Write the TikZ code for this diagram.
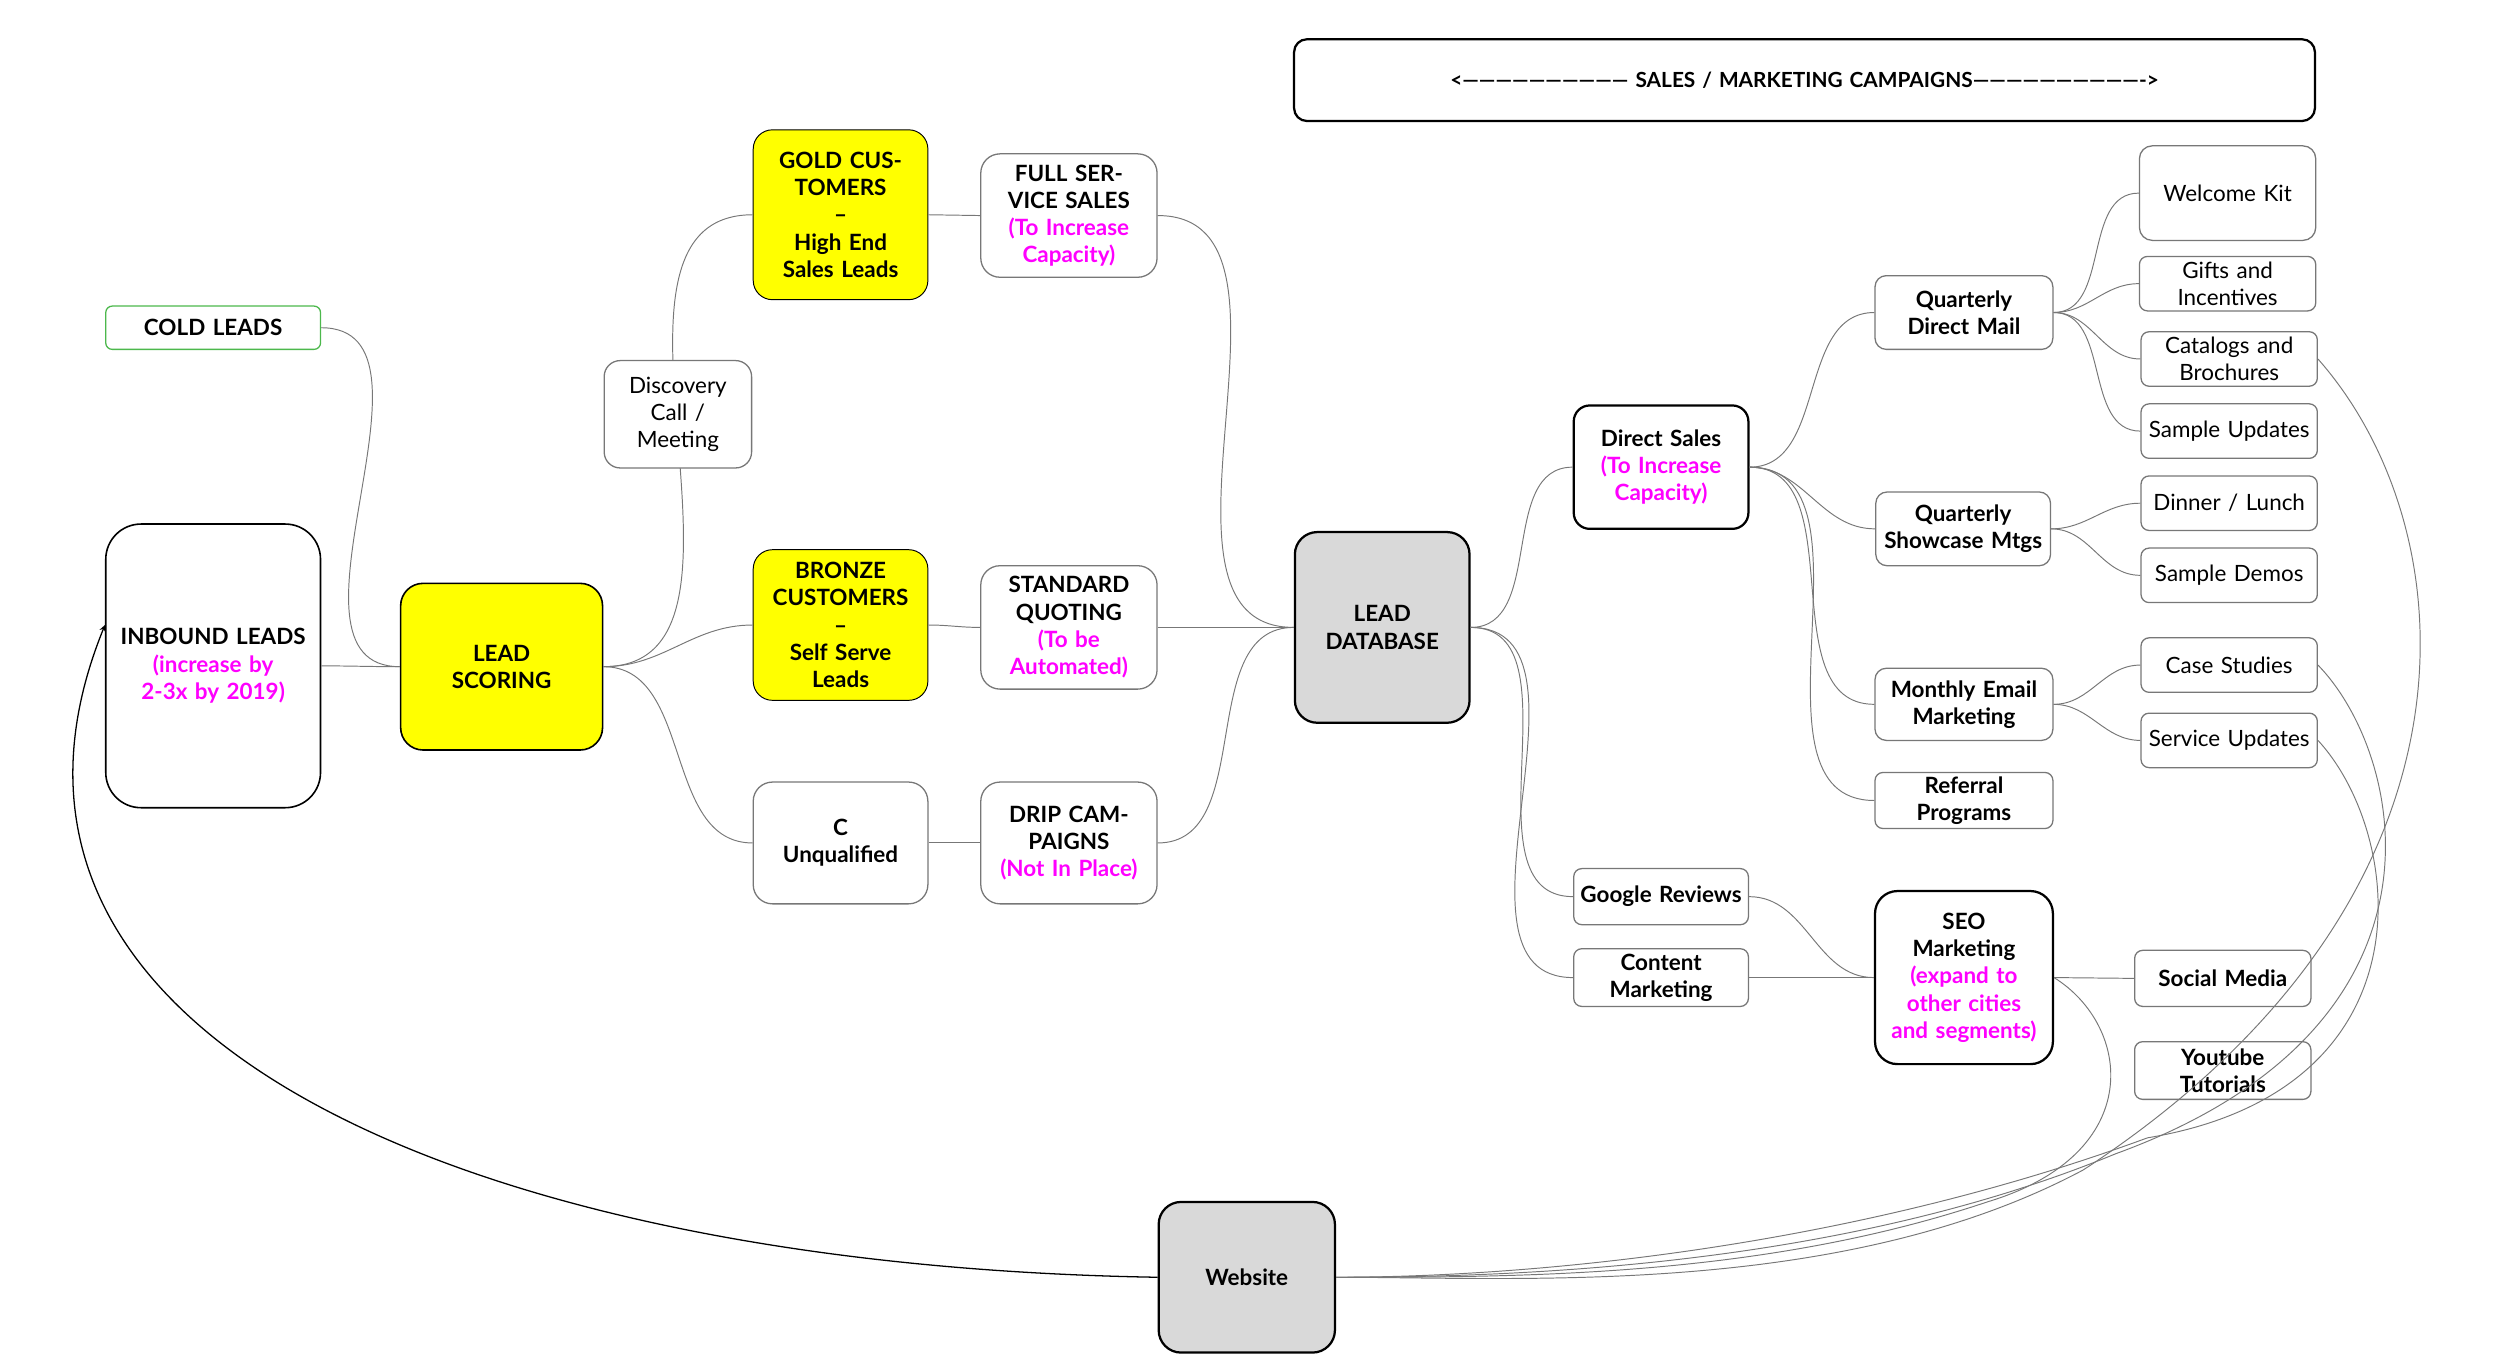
\documentclass[tikz,border=0pt]{standalone}
\usepackage{fontspec}
\setmainfont{Lato}
\definecolor{mag}{HTML}{FF00FF}
\definecolor{yel}{HTML}{FFFF00}
\definecolor{gry}{HTML}{D9D9D9}
\definecolor{edg}{HTML}{777777}
\begin{document}
\begin{tikzpicture}[x=1pt,y=-1pt,
  base/.style 2 args={draw=edg,line width=0.8pt,rounded corners=9pt,fill=white,inner sep=0pt,
    minimum width=#1pt,minimum height=#2pt,text width=#1pt-6pt,align=center,
    font=\fontsize{14}{17}\selectfont},
  b/.style 2 args={base={#1}{#2},font=\fontsize{14}{17}\selectfont\bfseries},
  r/.style 2 args={base={#1}{#2}},
  strong/.style={draw=black,line width=1.4pt,rounded corners=14pt},
  mid/.style={draw=black,line width=1pt,rounded corners=14pt},
  ln/.style={draw=edg,line width=0.6pt},
  m/.style={text=mag}]
\useasboundingbox (0,0) rectangle (1560,852);
% nodes
\node[b={637}{51},strong,rounded corners=8pt,font=\fontsize{13}{16}\selectfont\bfseries] (camp) at (1126,50) {<------------------------------ SALES / MARKETING CAMPAIGNS------------------------------->};
\node[b={134}{27},draw=green!60!black!70,rounded corners=4pt] (cold) at (133,204.5) {COLD LEADS};
\node[b={134}{177},mid,rounded corners=22pt] (inb) at (133,415.5) {INBOUND LEADS\\\textcolor{mag}{(increase by\\2-3x by 2019)}};
\node[b={126}{104},mid,fill=yel] (ls) at (313,416) {LEAD\\SCORING};
\node[b={109}{106},fill=yel,draw=black,line width=0.6pt,rounded corners=12pt] (gold) at (524.5,134) {GOLD CUSTOMERS\\--\\High End Sales Leads};
\node[b={109}{94},fill=yel,draw=black,line width=0.6pt,rounded corners=12pt] (bronze) at (524.5,390) {BRONZE CUSTOMERS\\--\\Self Serve\\Leads};
\node[b={109}{76},rounded corners=12pt] (cq) at (524.5,526) {C\\Unqualified};
\node[b={110}{77},rounded corners=12pt] (full) at (667,134.5) {FULL SERVICE SALES\\\textcolor{mag}{(To Increase Capacity)}};
\node[b={110}{77},rounded corners=12pt] (std) at (667,391.5) {STANDARD QUOTING\\\textcolor{mag}{(To be\\Automated)}};
\node[b={110}{76},rounded corners=12pt] (drip) at (667,526) {DRIP CAMPAIGNS\\\textcolor{mag}{(Not In Place)}};
\node[b={109}{119},strong,fill=gry] (ld) at (862.5,391.5) {LEAD\\DATABASE};
\node[b={110}{94},strong,fill=gry] (web) at (778,797) {Website};
\node[b={109}{77},strong,rounded corners=10pt] (ds) at (1036.5,291.5) {Direct Sales\\\textcolor{mag}{(To Increase\\Capacity)}};
\node[b={109}{35},rounded corners=5pt] (gr) at (1036.5,559.5) {Google Reviews};
\node[b={109}{36},rounded corners=5pt] (cm) at (1036.5,610) {Content\\Marketing};
\node[b={111}{46},rounded corners=7pt] (qdm) at (1225.5,195) {Quarterly\\Direct Mail};
\node[b={109}{46},rounded corners=7pt] (qsm) at (1225,330) {Quarterly\\Showcase Mtgs};
\node[b={111}{45},rounded corners=7pt] (me) at (1225.5,439.5) {Monthly Email\\Marketing};
\node[b={111}{35},rounded corners=5pt] (ref) at (1225.5,499.5) {Referral\\Programs};
\node[b={111}{108},strong,rounded corners=14pt] (seo) at (1225.5,610) {SEO\\Marketing\\\textcolor{mag}{(expand to other cities and segments)}};
\node[r={110}{59},rounded corners=8pt] (wk) at (1390,120.5) {Welcome Kit};
\node[r={110}{34},rounded corners=5pt] (gi) at (1390,177) {Gifts and\\Incentives};
\node[r={110}{34},rounded corners=5pt] (cat) at (1391,224) {Catalogs and\\Brochures};
\node[r={110}{34},rounded corners=5pt] (su) at (1391,269) {Sample Updates};
\node[r={110}{34},rounded corners=5pt] (dl) at (1391,314) {Dinner / Lunch};
\node[r={110}{34},rounded corners=5pt] (sd) at (1391,359) {Sample Demos};
\node[r={110}{34},rounded corners=5pt] (cs) at (1391,415) {Case Studies};
\node[r={110}{34},rounded corners=5pt] (sv) at (1391,462) {Service Updates};
\node[b={110}{35},rounded corners=5pt] (sm) at (1387,610.5) {Social Media};
\node[b={110}{36},rounded corners=5pt] (yt) at (1387,668) {Youtube\\Tutorials};
% edges (behind)
\begin{scope}[on background layer/.style={}]
\end{scope}
\begin{pgfinterruptboundingbox}\end{pgfinterruptboundingbox}
\path[ln] (cold.east) edge[out=0,in=180] (ls.west)
  (inb.east) edge[out=0,in=180] (ls.west)
  (ls.east) edge[out=0,in=180] (bronze.west)
  (ls.east) edge[out=0,in=180] (cq.west)
  (gold.east) edge (full.west)
  (bronze.east) edge[out=0,in=180] (std.west)
  (cq.east) edge (drip.west)
  (full.east) edge[out=0,in=180] (ld.west)
  (std.east) edge[out=0,in=180] (ld.west)
  (drip.east) edge[out=0,in=180] (ld.west)
  (ld.east) edge[out=0,in=180] (ds.west)
  (ld.east) edge[out=0,in=180] (gr.west)
  (ld.east) edge[out=0,in=180] (cm.west)
  (ds.east) edge[out=0,in=180] (qdm.west)
  (ds.east) edge[out=0,in=180] (qsm.west)
  (ds.east) edge[out=0,in=180] (me.west)
  (ds.east) edge[out=0,in=180] (ref.west)
  (qdm.east) edge[out=0,in=180] (wk.west)
  (qdm.east) edge[out=0,in=180] (gi.west)
  (qdm.east) edge[out=0,in=180] (cat.west)
  (qdm.east) edge[out=0,in=180] (su.west)
  (qsm.east) edge[out=0,in=180] (dl.west)
  (qsm.east) edge[out=0,in=180] (sd.west)
  (me.east) edge[out=0,in=180] (cs.west)
  (me.east) edge[out=0,in=180] (sv.west)
  (gr.east) edge[out=0,in=180] (seo.west)
  (cm.east) edge[out=0,in=180] (seo.west)
  (seo.east) edge (sm.west);
\draw[ln] (ls.east) to[out=0,in=180] (gold.west);
\node[r={92}{67},rounded corners=10pt] (disc) at (423,258.5) {Discovery\\Call /\\Meeting};
\draw[ln] (cat.east) .. controls (1540,330) and (1560,560) .. (1300,730) .. controls (1150,810) and (950,797) .. (web.east);
\draw[ln] (cs.east) .. controls (1500,470) and (1540,640) .. (1320,720) .. controls (1150,790) and (950,797) .. (web.east);
\draw[ln] (sv.east) .. controls (1500,520) and (1520,680) .. (1340,710) .. controls (1150,780) and (950,797) .. (web.east);
\draw[ln] (seo.east) .. controls (1330,640) and (1340,720) .. (1240,750) .. controls (1100,797) and (950,797) .. (web.east);
\draw[-stealth,line width=0.8pt] (web.west) .. controls (300,790) and (-40,650) .. (inb.west|-0,390) coordinate (ia);
\end{tikzpicture}
\end{document}
